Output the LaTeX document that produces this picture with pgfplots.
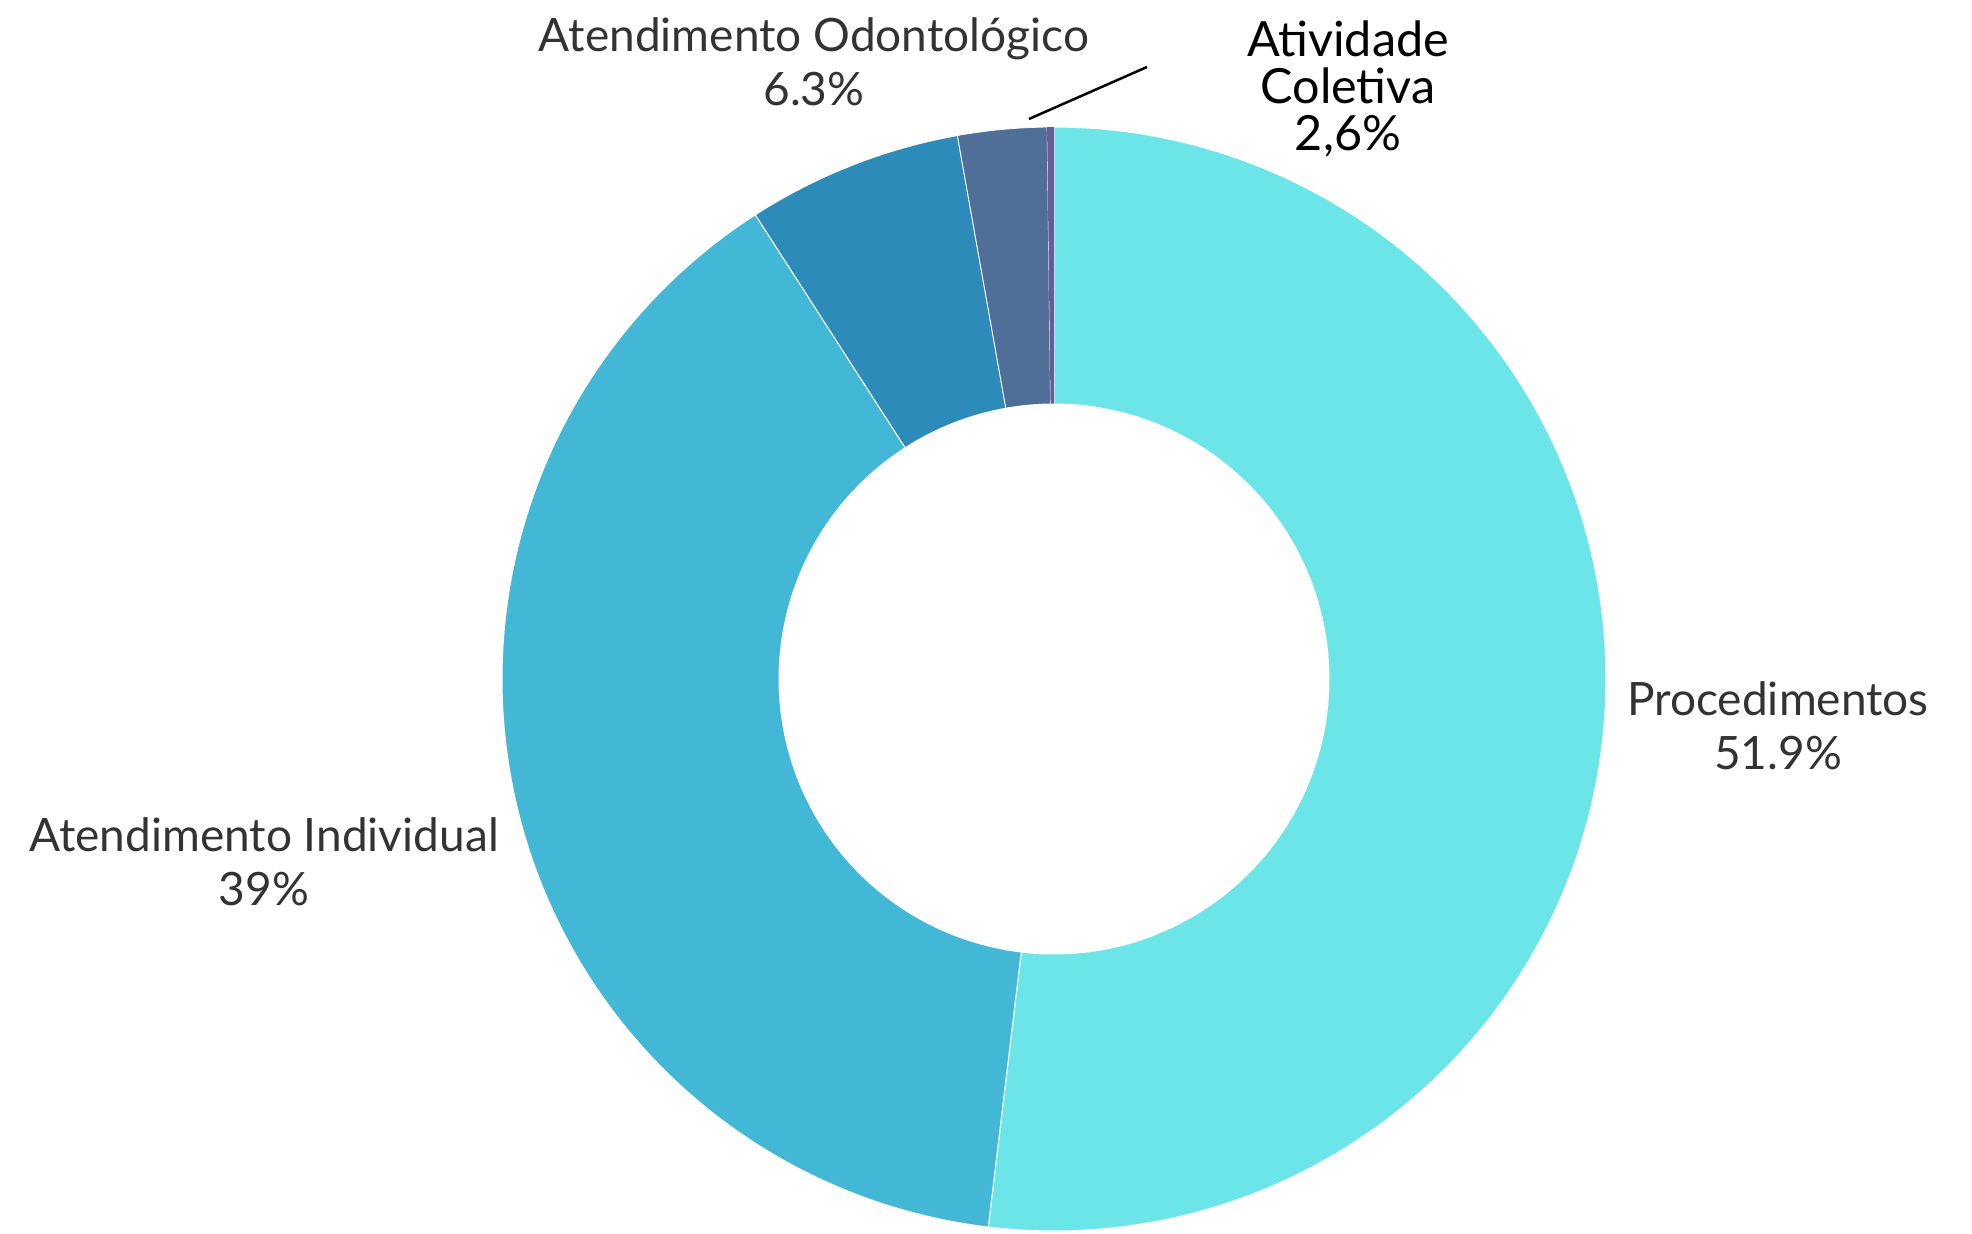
\documentclass[border=0pt]{standalone}
\usepackage{fontspec}
\setmainfont{Lato}
\usepackage{pgfplots}
\pgfplotsset{compat=1.18}
\definecolor{cP}{HTML}{6CE5E8}
\definecolor{cI}{HTML}{42B7D6}
\definecolor{cO}{HTML}{2D8BBA}
\definecolor{cA}{HTML}{4F6E98}
\definecolor{cX}{HTML}{6A5A9A}
\definecolor{txt}{HTML}{333333}
% data (percent)
\def\vP{51.9}
\def\vI{39}
\def\vO{6.3}
\def\vA{2.6}
\def\vX{0.2}
% geometry (pixels of the reference)
\def\cx{1054}
\def\cy{555}
\def\ro{552}
\def\ri{275.5}
\pgfmathsetmacro{\aP}{90}
\pgfmathsetmacro{\aI}{\aP-3.6*\vP}
\pgfmathsetmacro{\aO}{\aI-3.6*\vI}
\pgfmathsetmacro{\aA}{\aO-3.6*\vO}
\pgfmathsetmacro{\aX}{\aA-3.6*\vA}
\pgfmathsetmacro{\aE}{\aX-3.6*\vX}
\begin{document}
\begin{tikzpicture}
\begin{axis}[
  scale only axis, width=394.4pt, height=246.8pt,
  xmin=0, xmax=1972, ymin=0, ymax=1234,
  hide axis, clip=false,
  every axis plot/.append style={samples=150, variable=\t},
]
\path[draw=none] (rel axis cs:0,0) rectangle (rel axis cs:1,1);
\addplot[fill=cP, draw=white, line width=0.2pt, domain=\aI:\aP] ({\cx+\ro*cos(\t)},{\cy+\ro*sin(\t)}) -- (axis cs:\cx,\cy) -- cycle;
\addplot[fill=cI, draw=white, line width=0.2pt, domain=\aO:\aI] ({\cx+\ro*cos(\t)},{\cy+\ro*sin(\t)}) -- (axis cs:\cx,\cy) -- cycle;
\addplot[fill=cO, draw=white, line width=0.2pt, domain=\aA:\aO, samples=40] ({\cx+\ro*cos(\t)},{\cy+\ro*sin(\t)}) -- (axis cs:\cx,\cy) -- cycle;
\addplot[fill=cA, draw=white, line width=0.15pt, domain=\aX:\aA, samples=20] ({\cx+\ro*cos(\t)},{\cy+\ro*sin(\t)}) -- (axis cs:\cx,\cy) -- cycle;
\addplot[fill=cX, draw=none, domain=\aE:\aX, samples=5] ({\cx+\ro*cos(\t)},{\cy+\ro*sin(\t)}) -- (axis cs:\cx,\cy) -- cycle;
\addplot[fill=white, draw=none, domain=0:360, samples=200] ({\cx+\ri*cos(\t)},{\cy+\ri*sin(\t)}) -- cycle;
% leader line
\addplot[black, line width=0.5pt] coordinates {(1029,1115) (1147,1167)};
% labels
\node[align=center, text=txt, font=\fontsize{9.2}{10.8}\selectfont] at (axis cs:814,1172) {Atendimento Odontológico\\6.3\%};
\node[align=center, text=black, font=\fontsize{9.7}{9.4}\selectfont] at (axis cs:1348,1145) {Atividade\\Coletiva\\2,6\%};
\node[align=center, text=txt, font=\fontsize{9.2}{10.8}\selectfont] at (axis cs:1778,508) {Procedimentos\\51.9\%};
\node[align=center, text=txt, font=\fontsize{9.2}{10.8}\selectfont] at (axis cs:264,372) {Atendimento Individual\\39\%};
\end{axis}
\end{tikzpicture}
\end{document}
